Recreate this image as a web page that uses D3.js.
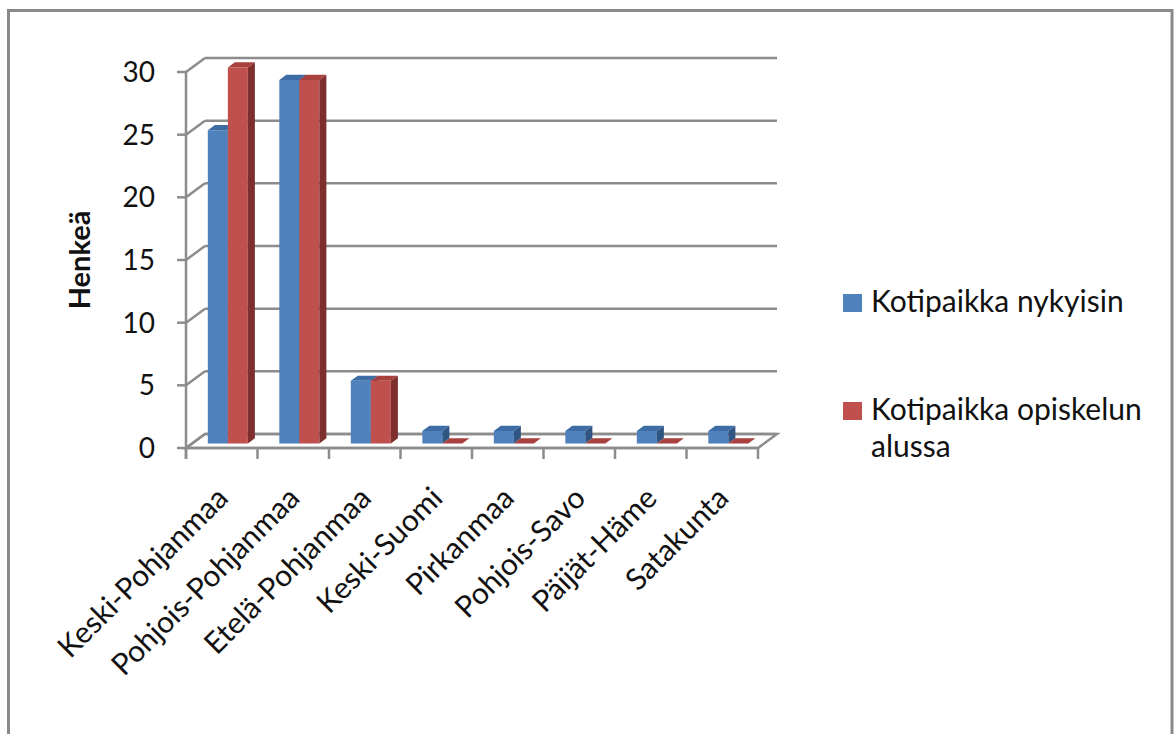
<!DOCTYPE html>
<html><head><meta charset="utf-8">
<script src="https://cdn.jsdelivr.net/npm/d3@7"></script>
<style>html,body{margin:0;padding:0;background:#fff;}</style>
</head><body>
<svg id="chart" width="1176" height="734"></svg>
<script>
const categories = ["Keski-Pohjanmaa","Pohjois-Pohjanmaa","Etelä-Pohjanmaa","Keski-Suomi","Pirkanmaa","Pohjois-Savo","Päijät-Häme","Satakunta"];
const seriesNames = ["Kotipaikka nykyisin","Kotipaikka opiskelun alussa"];
const nykyisin = [25,29,5,1,1,1,1,1];
const alussa = [30,29,5,0,0,0,0,0];
const yTicks = [0,5,10,15,20,25,30];
const yTitle = "Henkeä";

(function(){
const svg = d3.select("#chart");
const font = "Lato, 'Open Sans', sans-serif";
const gridColor = "#8c8c8c";

svg.append("path").attr("d","M8.5,760 L8.5,10.5 L1172,10.5 L1172,760")
  .attr("fill","none").attr("stroke","#8a8a8a").attr("stroke-width",3);

const pLeft = 186, pRight = 758, pBottom = 448, pTop = 72;
const depthX = 19, depthY = 14;
const y = d3.scaleLinear().domain([0,30]).range([pBottom, pTop]);
const x = d3.scaleBand().domain(categories).range([pLeft, pRight]);
const bw = x.bandwidth();
const xs = d3.scaleBand().domain(seriesNames).range([bw*0.22, bw*0.78]);
const P = (px, v, d) => [px + d*depthX, y(v) - d*depthY];
const poly = pts => "M" + pts.map(p => p.join(",")).join("L") + "Z";

const g = svg.append("g");
g.append("path").attr("d", poly([P(pLeft,0,0),P(pRight,0,0),P(pRight,0,1),P(pLeft,0,1)]))
  .attr("fill","#fff").attr("stroke",gridColor).attr("stroke-width",2.5);
yTicks.forEach(t => {
  g.append("line").attr("x1",P(pLeft,t,1)[0]).attr("y1",P(pLeft,t,1)[1])
    .attr("x2",P(pRight,t,1)[0]).attr("y2",P(pRight,t,1)[1])
    .attr("stroke",gridColor).attr("stroke-width",2.5);
  g.append("line").attr("x1",P(pLeft,t,0)[0]).attr("y1",P(pLeft,t,0)[1])
    .attr("x2",P(pLeft,t,1)[0]).attr("y2",P(pLeft,t,1)[1])
    .attr("stroke",gridColor).attr("stroke-width",2.5);
});
g.append("line").attr("x1",pLeft).attr("x2",pLeft).attr("y1",y(30)).attr("y2",pBottom+11)
  .attr("stroke",gridColor).attr("stroke-width",2.5);
yTicks.forEach(t => {
  g.append("line").attr("x1",pLeft-9).attr("x2",pLeft).attr("y1",y(t)).attr("y2",y(t))
    .attr("stroke",gridColor).attr("stroke-width",2.5);
  g.append("text").attr("x",155).attr("y",y(t)).attr("dy","0.36em").attr("text-anchor","end")
    .attr("font-family",font).attr("font-size",28).attr("fill","#111").text(t);
});
g.append("line").attr("x1",pLeft).attr("x2",pRight).attr("y1",pBottom).attr("y2",pBottom)
  .attr("stroke",gridColor).attr("stroke-width",2.5);
const tickXs = categories.map(c => x(c)).concat([pRight]);
tickXs.forEach(xx => {
  g.append("line").attr("x1",xx).attr("x2",xx).attr("y1",pBottom).attr("y2",pBottom+11)
    .attr("stroke",gridColor).attr("stroke-width",2.5);
});

const colors = {
  front: ["#4F81BD","#C0504D"],
  topc:  ["#3E6DA5","#A8413E"],
  side:  ["#2F5583","#7E2F2D"]
};
const d0 = 0.32, d1 = 0.69;
const data = [nykyisin, alussa];
categories.forEach((c,i) => {
  seriesNames.forEach((s,k) => {
    const v = data[k][i];
    const x0 = x(c) + xs(s), x1 = x0 + xs.bandwidth();
    if (v > 0) {
      g.append("path").attr("d", poly([P(x0,v,d0),P(x1,v,d0),P(x1,0,d0),P(x0,0,d0)])).attr("fill",colors.front[k]);
      g.append("path").attr("d", poly([P(x1,0,d0),P(x1,v,d0),P(x1,v,d1),P(x1,0,d1)])).attr("fill",colors.side[k]);
    }
    g.append("path").attr("d", poly([P(x0,v,d0),P(x1,v,d0),P(x1,v,d1),P(x0,v,d1)])).attr("fill",colors.topc[k]);
  });
});

categories.forEach(c => {
  const cx = x(c) + bw/2 + 8, cy = 500;
  g.append("text").attr("transform",`translate(${cx},${cy}) rotate(-45)`)
    .attr("text-anchor","end").attr("font-family",font).attr("font-size",30).attr("fill","#111").text(c);
});

g.append("text").attr("transform","translate(90,260) rotate(-90)").attr("text-anchor","middle")
  .attr("font-family",font).attr("font-size",29).attr("font-weight","bold").attr("fill","#111").text(yTitle);

const lg = svg.append("g");
const legendRows = [[[seriesNames[0]], 312], [["Kotipaikka opiskelun","alussa"], 420]];
legendRows.forEach(([lines, by], k) => {
  lg.append("rect").attr("x",843).attr("y",by-18).attr("width",19).attr("height",18).attr("fill",colors.front[k]);
  const t = lg.append("text").attr("x",871).attr("y",by).attr("font-family",font).attr("font-size",30).attr("fill","#111");
  lines.forEach((ln,j) => t.append("tspan").attr("x",871).attr("dy", j===0?0:37).text(ln));
});
})();
</script>
</body></html>
